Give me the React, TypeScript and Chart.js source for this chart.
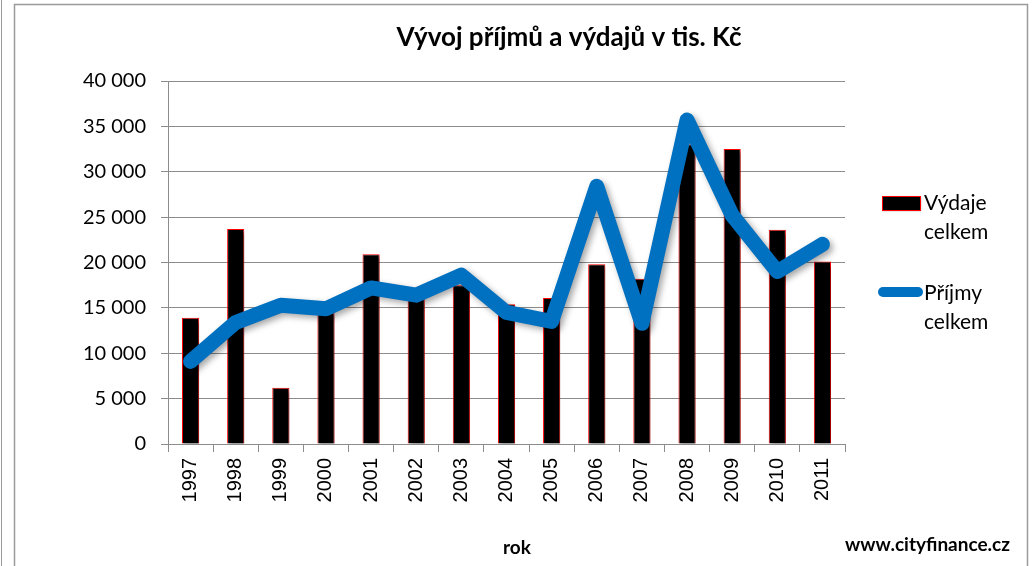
import React, { useEffect, useRef } from "react";
import { Chart, registerables } from "chart.js";

Chart.register(...registerables);

const years = ["1997", "1998", "1999", "2000", "2001", "2002", "2003", "2004", "2005", "2006", "2007", "2008", "2009", "2010", "2011"];
const vydaje = [13900, 23700, 6200, 14500, 20900, 16000, 17500, 15400, 16100, 19800, 18200, 33000, 32500, 23600, 20100];
const prijmy = [9100, 13400, 15300, 14900, 17200, 16400, 18600, 14500, 13500, 28400, 13300, 35700, 25200, 19000, 22000];
const titleText = "Vývoj příjmů a výdajů v tis. Kč";
const xTitle = "rok";
const sourceText = "www.cityfinance.cz";
const legendBar = ["Výdaje", "celkem"];
const legendLine = ["Příjmy", "celkem"];

const W = 1033;
const H = 566;
const BLUE = "#0070C0";

const fmt = (v: number) => String(v).replace(/\B(?=(\d{3})+(?!\d))/g, " ");

const decor = {
  id: "decor",
  beforeDraw(chart: any) {
    const ctx = chart.ctx;
    ctx.save();
    ctx.fillStyle = "#fff";
    ctx.fillRect(0, 0, W, H);
    ctx.strokeStyle = "#9a9a9a";
    ctx.lineWidth = 1;
    ctx.beginPath();
    ctx.moveTo(1.5, 0);
    ctx.lineTo(1.5, H);
    ctx.stroke();
    ctx.lineWidth = 1.5;
    ctx.beginPath();
    ctx.moveTo(14.5, H + 5);
    ctx.lineTo(14.5, 4.5);
    ctx.lineTo(1027.5, 4.5);
    ctx.lineTo(1027.5, H + 5);
    ctx.stroke();
    ctx.restore();
  },
  beforeDatasetDraw(chart: any, args: any) {
    const ctx = chart.ctx;
    ctx.save();
    ctx.shadowColor = "rgba(0,0,0,0.35)";
    ctx.shadowBlur = args.index === 0 ? 6 : 3;
    ctx.shadowOffsetX = 3;
    ctx.shadowOffsetY = 3;
  },
  afterDatasetDraw(chart: any) {
    chart.ctx.restore();
  },
  afterDraw(chart: any) {
    const ctx = chart.ctx;
    ctx.save();
    ctx.fillStyle = "#000";
    ctx.textBaseline = "middle";
    ctx.textAlign = "center";
    ctx.font = "bold 26px Lato";
    ctx.fillText(titleText, 569, 38);
    ctx.font = "bold 19px Lato";
    ctx.fillText(xTitle, 517, 548);
    ctx.font = "bold 19px Lato";
    ctx.textAlign = "right";
    ctx.fillText(sourceText, 1010, 545);

    // legend
    ctx.save();
    ctx.shadowColor = "rgba(0,0,0,0.3)";
    ctx.shadowBlur = 2;
    ctx.shadowOffsetX = 1;
    ctx.shadowOffsetY = 1;
    ctx.fillStyle = "#000";
    ctx.fillRect(882, 196, 38, 14);
    ctx.restore();
    ctx.strokeStyle = "#ff0000";
    ctx.lineWidth = 1;
    ctx.strokeRect(882.5, 196.5, 38, 14);
    ctx.strokeStyle = BLUE;
    ctx.lineWidth = 10;
    ctx.lineCap = "round";
    ctx.beginPath();
    ctx.moveTo(883, 292);
    ctx.lineTo(918, 292);
    ctx.stroke();
    ctx.fillStyle = "#000";
    ctx.textAlign = "left";
    ctx.font = "21px Lato";
    ctx.fillText(legendBar[0], 924, 203);
    ctx.fillText(legendBar[1], 924, 232);
    ctx.fillText(legendLine[0], 924, 293);
    ctx.fillText(legendLine[1], 924, 322);
    ctx.restore();
  },
};

export default function App() {
  const ref = useRef<HTMLCanvasElement>(null);
  useEffect(() => {
    if (!ref.current) return;
    const chart = new Chart(ref.current, {
      type: "bar",
      data: {
        labels: years,
        datasets: [
          {
            type: "line",
            label: "Příjmy celkem",
            data: prijmy,
            borderColor: BLUE,
            backgroundColor: BLUE,
            borderWidth: 15,
            pointRadius: 0,
            borderJoinStyle: "round",
            borderCapStyle: "round",
            tension: 0,
            order: 0,
          } as any,
          {
            type: "bar",
            label: "Výdaje celkem",
            data: vydaje,
            backgroundColor: "#000000",
            borderColor: "#ff0000",
            borderWidth: 1,
            barPercentage: 0.38,
            categoryPercentage: 1,
            order: 1,
          },
        ],
      },
      options: {
        responsive: false,
        animation: false,
        layout: { padding: { left: 0, top: 81, right: W - 845, bottom: 0 } },
        plugins: { legend: { display: false }, title: { display: false }, tooltip: { enabled: false } },
        scales: {
          x: {
            offset: true,
            grid: { display: true, drawOnChartArea: false, drawTicks: true, tickLength: 8, color: "#8c8c8c", offset: true },
            border: { display: true, color: "#8c8c8c" },
            ticks: {
              color: "#000",
              font: { family: "Liberation Sans", size: 20 },
              minRotation: 90,
              maxRotation: 90,
              padding: 6,
              autoSkip: false,
            },
            afterFit(scale: any) {
              scale.height = H - 444;
            },
          },
          y: {
            min: 0,
            max: 40000,
            ticks: {
              stepSize: 5000,
              color: "#000",
              font: { family: "Lato", size: 20 },
              padding: 15,
              callback: (v: any) => fmt(Number(v)),
            },
            grid: { color: "#8c8c8c", tickLength: 7, lineWidth: 1 },
            border: { display: true, color: "#8c8c8c" },
            afterFit(scale: any) {
              scale.width = 168;
            },
          },
        },
      },
      plugins: [decor],
    });
    return () => chart.destroy();
  }, []);
  return (
    <div style={{ position: "fixed", left: 0, top: 0, width: W, height: H }}>
      <canvas ref={ref} width={W} height={H} style={{ width: W, height: H, display: "block" }} />
    </div>
  );
}
